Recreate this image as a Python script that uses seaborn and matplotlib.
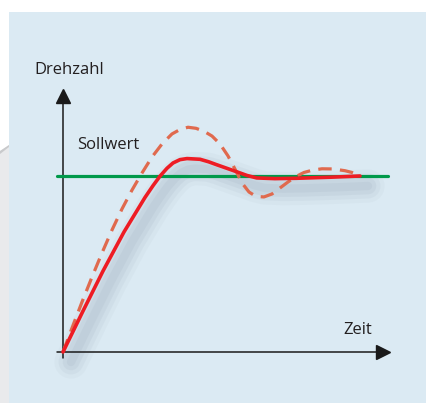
import numpy as np
import pandas as pd
import seaborn as sns
from matplotlib import pyplot as plt
from matplotlib import transforms
from matplotlib.patches import Rectangle, Polygon

# step response (time in arbitrary units, speed relative to setpoint)
t_solid = [0, 0.667, 1.333, 2.033, 2.733, 3.0, 3.233, 3.467, 3.667, 3.9, 4.133,
           4.567, 4.85, 5.123, 5.79, 6.133, 6.457, 7.067, 7.79, 8.9, 9.9]
v_solid = [0, 0.233, 0.46, 0.682, 0.878, 0.945, 0.999, 1.044, 1.074, 1.093, 1.099,
           1.095, 1.081, 1.064, 1.024, 1.003, 0.989, 0.985, 0.987, 0.993, 1.0]

t_dash = [0, 0.3, 0.633, 0.967, 1.3, 1.633, 1.967, 2.3, 2.633, 2.967, 3.3, 3.633,
          3.9, 4.167, 4.433, 4.7, 4.967, 5.233, 5.5, 5.767, 5.967, 6.2, 6.433, 6.7,
          6.967, 7.233, 7.5, 7.767, 8.033, 8.333, 8.633, 9.0, 9.4, 9.633, 9.833]
v_dash = [0, 0.136, 0.284, 0.426, 0.563, 0.693, 0.813, 0.92, 1.017, 1.108, 1.182, 1.239,
          1.264, 1.277, 1.271, 1.254, 1.227, 1.182, 1.114, 1.028, 0.96, 0.909, 0.884, 0.881,
          0.898, 0.932, 0.966, 0.997, 1.02, 1.034, 1.041, 1.04, 1.03, 1.02, 1.006]

t_soll = [-0.2, 10.83]
v_soll = [1.0, 1.0]

sns.set_style('white')
plt.rcParams['font.family'] = ['Open Sans', 'DejaVu Sans']

fig = plt.figure(figsize=(4.27, 4.03), dpi=100)
fig.patch.set_facecolor('white')
ax = fig.add_axes([0, 0, 1, 1])
ax.set_xlim(-2.1, 12.133)
ax.set_ylim(-0.2898, 2.0)
ax.axis('off')

# background panels (in figure pixels)
fig.patches.append(Polygon([[0, 0], [9, 0], [9, 258], [0, 252]], closed=True,
                           transform=None, facecolor='#e9eaec', edgecolor='none', zorder=-2))
fig.patches.append(Polygon([[0, 252], [9, 258], [9, 256], [0, 249]], closed=True,
                           transform=None, facecolor='#c9cacc', edgecolor='none', zorder=-2))
fig.patches.append(Rectangle((9, 0), 418, 391, transform=None,
                             facecolor='#dbeaf3', edgecolor='none', zorder=-2))

# shadow under the solid curve
for lw, a in [(24, 0.05), (18, 0.07), (12, 0.09), (6, 0.09)]:
    shift = transforms.offset_copy(ax.transData, fig=fig, x=8, y=-10, units='dots')
    ax.plot(t_solid, v_solid, color='#7f8ea3', lw=lw, alpha=a, transform=shift,
            solid_capstyle='round', solid_joinstyle='round', zorder=1)

# axes with arrows
ax.plot([-0.2, 10.6], [0, 0], color='#1a1a1a', lw=1.1, zorder=2)
ax.plot([0, 0], [-0.034, 1.44], color='#1a1a1a', lw=1.1, zorder=2)
ax.plot([10.67], [0], marker='>', color='#1a1a1a', markersize=10, zorder=2)
ax.plot([0], [1.455], marker='^', color='#1a1a1a', markersize=10, zorder=2)

# setpoint
sns.lineplot(x=t_soll, y=v_soll, ax=ax, color='#00994a', lw=2.3, zorder=3)

# responses
sns.lineplot(x=t_dash, y=v_dash, ax=ax, color='#e06a4e', lw=2.3,
             linestyle=(0, (4.2, 2.6)), zorder=4)
sns.lineplot(x=t_solid, y=v_solid, ax=ax, color='#ee1c24', lw=2.6, zorder=5,
             solid_joinstyle='round', solid_capstyle='round')

txt = dict(color='#231f20', fontsize=12)
ax.text(0.2, 1.602, 'Drehzahl', ha='center', va='center', **txt)
ax.text(0.47, 1.176, 'Sollwert', ha='left', va='center', **txt)
ax.text(9.82, 0.125, 'Zeit', ha='center', va='center', **txt)

plt.savefig('out.png', dpi=100)
